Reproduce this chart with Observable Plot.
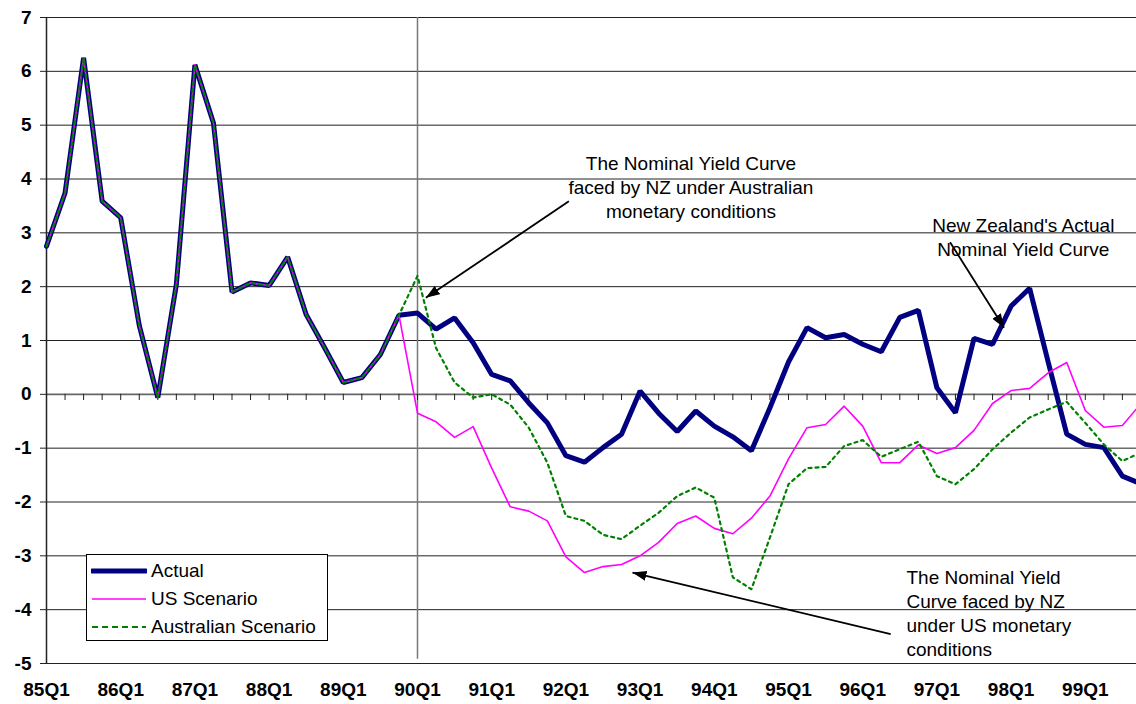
<!DOCTYPE html>
<html><head><meta charset="utf-8">
<script src="https://cdn.jsdelivr.net/npm/d3@7"></script>
<script src="https://cdn.jsdelivr.net/npm/@observablehq/plot@0.6"></script>
<style>
html,body{margin:0;padding:0;background:#fff;}
#wrap{position:relative;width:1136px;height:704px;overflow:hidden;font-family:"Liberation Sans",Arial,sans-serif;}
#legend{position:absolute;left:86px;top:554px;width:240px;height:85px;border:1px solid #000;background:#fff;}
.row{position:absolute;left:4px;height:24px;display:flex;align-items:center;font-size:19px;color:#000;}
.row svg{width:56px;height:10px;margin-right:4px;}
</style>
</head><body>
<div id="wrap"></div>
<script>
const quarters = ["85Q1","85Q2","85Q3","85Q4","86Q1","86Q2","86Q3","86Q4","87Q1","87Q2","87Q3","87Q4",
"88Q1","88Q2","88Q3","88Q4","89Q1","89Q2","89Q3","89Q4","90Q1","90Q2","90Q3","90Q4",
"91Q1","91Q2","91Q3","91Q4","92Q1","92Q2","92Q3","92Q4","93Q1","93Q2","93Q3","93Q4",
"94Q1","94Q2","94Q3","94Q4","95Q1","95Q2","95Q3","95Q4","96Q1","96Q2","96Q3","96Q4",
"97Q1","97Q2","97Q3","97Q4","98Q1","98Q2","98Q3","98Q4","99Q1","99Q2","99Q3","99Q4"];
const tickLabels = ["85Q1","86Q1","87Q1","88Q1","89Q1","90Q1","91Q1","92Q1","93Q1","94Q1","95Q1","96Q1","97Q1","98Q1","99Q1"];
const yTicks = [-5,-4,-3,-2,-1,0,1,2,3,4,5,6,7];

const actual = [2.75,3.74,6.25,3.59,3.28,1.28,-0.06,2.04,6.12,5.04,
1.90,2.07,2.02,2.55,1.48,0.86,0.22,0.31,0.74,1.47,
1.51,1.21,1.42,0.96,0.37,0.25,-0.16,-0.53,-1.14,-1.26,
-0.99,-0.74,0.06,-0.35,-0.69,-0.31,-0.59,-0.79,-1.05,-0.25,
0.60,1.24,1.05,1.11,0.93,0.79,1.43,1.56,0.12,-0.34,
1.04,0.93,1.64,1.97,0.60,-0.74,-0.93,-0.99,-1.52,-1.66];
const usScenario = [2.75,3.74,6.25,3.59,3.28,1.28,-0.06,2.04,6.12,5.04,
1.90,2.07,2.02,2.55,1.48,0.86,0.22,0.31,0.74,1.47,
-0.35,-0.51,-0.80,-0.60,-1.37,-2.09,-2.17,-2.35,-3.02,-3.31,
-3.20,-3.16,-3.00,-2.75,-2.40,-2.26,-2.49,-2.59,-2.30,-1.89,
-1.20,-0.62,-0.56,-0.22,-0.59,-1.27,-1.27,-0.94,-1.10,-0.99,
-0.67,-0.17,0.07,0.11,0.40,0.59,-0.30,-0.61,-0.58,-0.17];
const ausScenario = [2.75,3.74,6.25,3.59,3.28,1.28,-0.06,2.04,6.12,5.04,
1.90,2.07,2.02,2.55,1.48,0.86,0.22,0.31,0.74,1.47,
2.20,0.86,0.22,-0.06,0.00,-0.19,-0.62,-1.27,-2.26,-2.35,
-2.61,-2.69,-2.44,-2.20,-1.89,-1.73,-1.92,-3.40,-3.62,-2.66,
-1.67,-1.37,-1.35,-0.96,-0.85,-1.16,-1.02,-0.88,-1.52,-1.67,
-1.39,-1.02,-0.71,-0.43,-0.28,-0.14,-0.53,-0.93,-1.24,-1.08];

const seriesNames = ["Actual","US Scenario","Australian Scenario"];

// annotations in data space (x = quarter index, y = value)
const notesCentered = [
  {x:34.74, y:3.865, text:"The Nominal Yield Curve\nfaced by NZ under Australian\nmonetary conditions"},
  {x:52.66, y:2.937, text:"New Zealand's Actual\nNominal Yield Curve"}
];
const notesLeft = [
  {x:46.36, y:-4.052, text:"The Nominal Yield\nCurve faced by NZ\nunder US monetary\nconditions"}
];
const arrows = [
  {x1:28.16, y1:3.586, x2:20.45, y2:1.792},
  {x1:48.71, y1:2.826, x2:51.62, y2:1.236},
  {x1:45.51, y1:-4.453, x2:31.59, y2:-3.31}
];

const rows = quarters.map((q,i)=>({i, q, actual:actual[i], us:usScenario[i], aus:ausScenario[i]}));
const idx = quarters.map((q,i)=>i);
const labelIdx = tickLabels.map(t=>quarters.indexOf(t));

function filledArrow(color) {
  const m = d3.create("svg:marker")
    .attr("viewBox", "-14 -5 14 10")
    .attr("markerUnits", "userSpaceOnUse")
    .attr("markerWidth", 14)
    .attr("markerHeight", 10)
    .attr("refX", 0).attr("refY", 0)
    .attr("orient", "auto");
  m.append("path").attr("d", "M-14,-5L0,0L-14,5Z").attr("fill", color).attr("stroke", "none");
  return m.node();
}

const font = "Liberation Sans, Arial, sans-serif";
const chart = Plot.plot({
  width:1136, height:704,
  marginLeft:46, marginRight:0, marginTop:17, marginBottom:41,
  x:{domain:[0,58.76], axis:null},
  y:{domain:[-5,7], axis:null},
  style:{fontFamily:font, background:"#fff", color:"#000"},
  marks:[
    Plot.ruleY(yTicks, {stroke:d=>d===0?"#666":"#222", strokeWidth:d=>d===0?1.6:1}),
    Plot.ruleX([quarters.indexOf("90Q1")], {y1:-4.92, y2:7, stroke:"#777", strokeWidth:1.5}),
    Plot.ruleX(idx, {x:d=>d, y1:0, y2:-0.115, stroke:"#222", strokeWidth:1}),
    Plot.ruleX([0], {y1:-5, y2:7, stroke:"#222", strokeWidth:1.5}),
    Plot.axisY({ticks:yTicks, tickSize:6, tickPadding:9, fontSize:19, fontWeight:"bold", tickFormat:d=>String(d), stroke:"#222"}),
    Plot.axisX({ticks:labelIdx, tickFormat:d=>quarters[d], tickSize:0, tickPadding:19, fontSize:19, fontWeight:"bold"}),
    Plot.line(rows, {x:"i", y:"actual", stroke:"#000080", strokeWidth:5, strokeLinejoin:"miter"}),
    Plot.line(rows, {x:"i", y:"us", stroke:"#ff00ff", strokeWidth:1.6}),
    Plot.line(rows, {x:"i", y:"aus", stroke:"#008000", strokeWidth:2.2, strokeDasharray:"3,4"}),
    Plot.link(arrows, {x1:"x1", y1:"y1", x2:"x2", y2:"y2", stroke:"#000", strokeWidth:1.8, markerEnd:filledArrow}),
    Plot.text(notesCentered, {x:"x", y:"y", text:"text", textAnchor:"middle", lineHeight:1.27, fontSize:19, fill:"#000"}),
    Plot.text(notesLeft, {x:"x", y:"y", text:"text", textAnchor:"start", lineHeight:1.27, fontSize:19, fill:"#000"})
  ]
});
const wrap = document.getElementById("wrap");
wrap.appendChild(chart);

// legend
const legend = document.createElement("div");
legend.id = "legend";
const styles = [
  {stroke:"#000080", width:5, dash:null},
  {stroke:"#ff00ff", width:1.6, dash:null},
  {stroke:"#008000", width:2.2, dash:"6,4"}
];
const tops = [4, 31.5, 60];
seriesNames.forEach((name,k)=>{
  const r = document.createElement("div");
  r.className = "row";
  r.style.top = tops[k] + "px";
  const s = styles[k];
  r.innerHTML = `<svg viewBox="0 0 56 10"><line x1="1" y1="5" x2="55" y2="5" stroke="${s.stroke}" stroke-width="${s.width}" ${s.dash?`stroke-dasharray="${s.dash}"`:""} stroke-linecap="${k===0?"round":"butt"}"/></svg><span>${name}</span>`;
  legend.appendChild(r);
});
wrap.appendChild(legend);
</script>
</body></html>
